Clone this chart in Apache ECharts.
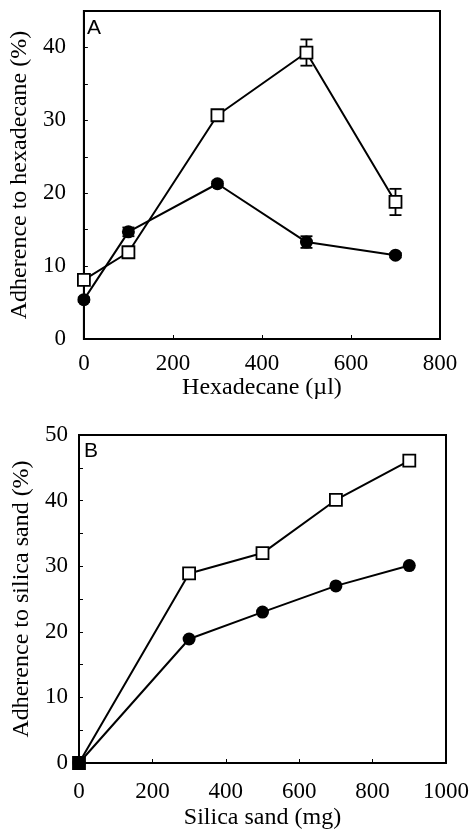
<!DOCTYPE html>
<html><head><meta charset="utf-8">
<script src="https://cdn.jsdelivr.net/npm/echarts@6/dist/echarts.min.js"></script>
<style>html,body{margin:0;padding:0;background:#fff}#c{width:473px;height:834px}</style>
</head><body><div id="c"></div>
<script>
// Panel A: hexadecane
const hexX = [0, 100, 300, 500, 700];
const hexSquare = [8.1, 11.9, 30.7, 39.3, 18.8];
const hexSquareErr = [0.3, 0.5, 0.5, 1.8, 1.8];
const hexCircle = [5.4, 14.7, 21.3, 13.3, 11.5];
const hexCircleErr = [0.3, 0.6, 0.3, 0.8, 0.3];
// Panel B: silica sand
const sandX = [0, 300, 500, 700, 900];
const sandSquare = [0, 28.9, 32.0, 40.1, 46.1];
const sandCircle = [0, 18.9, 23.0, 27.0, 30.1];

const serif = 'Liberation Serif';

function pts(xs, ys) { return xs.map((x, i) => [x, ys[i]]); }
function errs(xs, ys, es) { return xs.map((x, i) => [x, ys[i] - es[i], ys[i] + es[i]]); }

function errRender(params, api) {
  const x = api.value(0);
  const lo = api.coord([x, api.value(1)]);
  const hi = api.coord([x, api.value(2)]);
  const w = 6;
  const st = { stroke: '#000', lineWidth: 1.8 };
  return { type: 'group', children: [
    { type: 'line', shape: { x1: lo[0], y1: lo[1], x2: hi[0], y2: hi[1] }, style: st },
    { type: 'line', shape: { x1: lo[0] - w, y1: lo[1], x2: lo[0] + w, y2: lo[1] }, style: st },
    { type: 'line', shape: { x1: hi[0] - w, y1: hi[1], x2: hi[0] + w, y2: hi[1] }, style: st }
  ]};
}

function xAxis(gi, max, margin, name, gap) {
  return {
    type: 'value', gridIndex: gi, min: 0, max: max, interval: 200,
    name: name, nameLocation: 'middle', nameGap: gap,
    nameTextStyle: { fontFamily: serif, fontSize: 24, color: '#000' },
    axisLine: { show: true, lineStyle: { color: '#000', width: 2 } },
    axisTick: { show: true, inside: true, length: 4, lineStyle: { color: '#000', width: 1 } },
    axisLabel: { fontFamily: serif, fontSize: 23, color: '#000', margin: margin,
      formatter: v => String(v) },
    splitLine: { show: false }
  };
}
function yAxis(gi, max, margin, name, gap) {
  return {
    type: 'value', gridIndex: gi, min: 0, max: max, interval: 5,
    name: name, nameLocation: 'middle', nameGap: gap, nameRotate: 90,
    nameTextStyle: { fontFamily: serif, fontSize: 24, color: '#000' },
    axisLine: { show: true, lineStyle: { color: '#000', width: 2 } },
    axisTick: { show: true, inside: true, length: 4, lineStyle: { color: '#000', width: 1 } },
    axisLabel: { fontFamily: serif, fontSize: 23, color: '#000', margin: margin,
      formatter: v => (v % 10 === 0 ? String(v) : '') },
    splitLine: { show: false }
  };
}

const lineSq = (xi, yi, data) => ({
  type: 'line', xAxisIndex: xi, yAxisIndex: yi, data: data,
  symbol: 'rect', symbolSize: 12, showSymbol: true, z: 3,
  lineStyle: { color: '#000', width: 2 },
  itemStyle: { color: '#fff', borderColor: '#000', borderWidth: 1.8 }
});
const lineCi = (xi, yi, data) => ({
  type: 'line', xAxisIndex: xi, yAxisIndex: yi, data: data,
  symbol: 'circle', symbolSize: 13, showSymbol: true, z: 4,
  lineStyle: { color: '#000', width: 2 },
  itemStyle: { color: '#000', borderColor: '#000', borderWidth: 0 }
});

const sandSqData = pts(sandX, sandSquare).map((p, i) =>
  i === 0 ? { value: p, itemStyle: { color: '#000' } } : p);

const chart = echarts.init(document.getElementById('c'), null, { renderer: 'canvas' });
chart.setOption({
  animation: false,
  backgroundColor: '#fff',
  grid: [
    { left: 82, top: 11, width: 358, height: 328, show: true, borderColor: '#000', borderWidth: 2, backgroundColor: 'transparent' },
    { left: 79, top: 435, width: 367, height: 328, show: true, borderColor: '#000', borderWidth: 2, backgroundColor: 'transparent' }
  ],
  xAxis: [
    xAxis(0, 800, 13, 'Hexadecane (µl)', 33),
    xAxis(1, 1000, 17, 'Silica sand (mg)', 43)
  ],
  yAxis: [
    yAxis(0, 45, 18, 'Adherence to hexadecane (%)', 48),
    yAxis(1, 50, 11, 'Adherence to silica sand (%)', 45)
  ],
  graphic: [
    { type: 'text', left: 87, top: 18, style: { text: 'A', font: '21px "Liberation Sans"', fill: '#000' } },
    { type: 'text', left: 84, top: 441, style: { text: 'B', font: '21px "Liberation Sans"', fill: '#000' } }
  ],
  series: [
    { type: 'custom', xAxisIndex: 0, yAxisIndex: 0, data: errs(hexX, hexSquare, hexSquareErr), renderItem: errRender, z: 2 },
    { type: 'custom', xAxisIndex: 0, yAxisIndex: 0, data: errs(hexX, hexCircle, hexCircleErr), renderItem: errRender, z: 2 },
    lineSq(0, 0, pts(hexX, hexSquare)),
    lineCi(0, 0, pts(hexX, hexCircle)),
    lineCi(1, 1, pts(sandX, sandCircle)),
    lineSq(1, 1, sandSqData)
  ]
});
</script>
</body></html>
